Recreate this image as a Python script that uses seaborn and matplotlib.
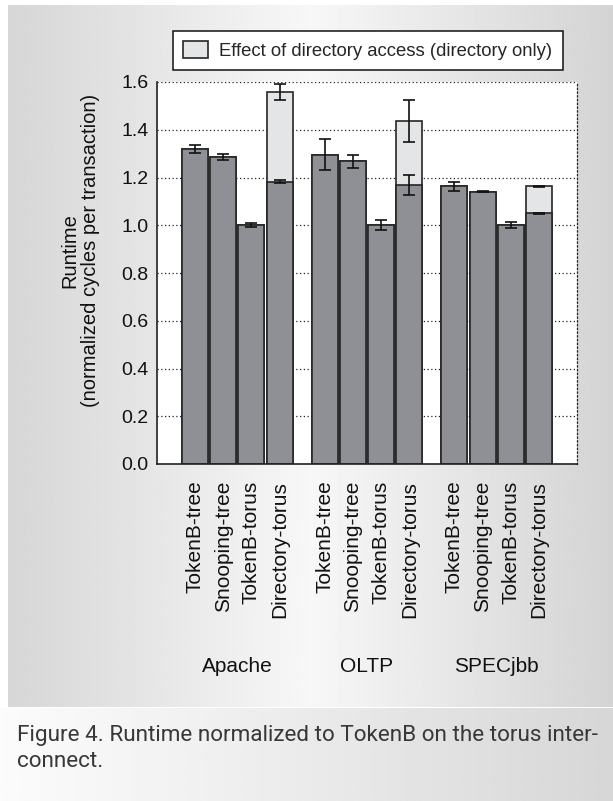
import numpy as np
import pandas as pd
import matplotlib
matplotlib.use("Agg")
import matplotlib.pyplot as plt
from matplotlib.patches import Patch
from matplotlib.transforms import blended_transform_factory
import seaborn as sns

# workloads and coherence protocol / interconnect configurations
workloads = ["Apache", "OLTP", "SPECjbb"]
configs = ["TokenB-tree", "Snooping-tree", "TokenB-torus", "Directory-torus"]

# normalized runtime (dark bars) per workload, in config order
apache_runtime = [1.321, 1.285, 1.000, 1.183]
oltp_runtime = [1.295, 1.268, 1.000, 1.167]
specjbb_runtime = [1.163, 1.140, 1.000, 1.051]

# error bar half-widths for the dark bars
apache_err = [0.017, 0.013, 0.009, 0.008]
oltp_err = [0.065, 0.028, 0.021, 0.042]
specjbb_err = [0.020, 0.002, 0.013, 0.002]

# Directory-torus runtime including effect of directory access (light part)
directory_total = [1.558, 1.435, 1.163]
directory_total_err = [0.035, 0.088, 0.002]

legend_label = "Effect of directory access (directory only)"
ylabel = "Runtime\n(normalized cycles per transaction)"
caption = "Figure 4. Runtime normalized to TokenB on the torus inter-\nconnect."

dark = "#8f9095"
light = "#e4e5e7"
edge = "#262626"
group_step = 4.6  # spacing between workload groups, in bar units

# build long table
rows = []
all_rt = [apache_runtime, oltp_runtime, specjbb_runtime]
all_err = [apache_err, oltp_err, specjbb_err]
for g, w in enumerate(workloads):
    for i, c in enumerate(configs):
        base = all_rt[g][i]
        if c == "Directory-torus":
            total = directory_total[g]
            total_err = directory_total_err[g]
        else:
            total = base
            total_err = np.nan
        rows.append({"workload": w, "config": c, "pos": g * group_step + i,
                     "runtime": base, "err": all_err[g][i],
                     "total": total, "total_err": total_err})
df = pd.DataFrame(rows)

sns.set_theme(style="white")
plt.rcParams["font.family"] = ["Liberation Sans", "DejaVu Sans"]

fig = plt.figure(figsize=(6.13, 8.01), dpi=100)
fig.patch.set_facecolor("white")

# gray gradient panels behind the chart and the caption
W, H = 613, 801
bg = fig.add_axes([8 / W, 1 - 707 / H, 1 - 8 / W, (707 - 5) / H], zorder=-2)
xx = np.linspace(0, 1, 400)
shade = np.interp(xx, [0, 0.5, 1], [0.84, 0.97, 0.83])
bg.imshow(np.tile(shade, (10, 1)), cmap="gray", vmin=0, vmax=1, aspect="auto",
          extent=[0, 1, 0, 1])
bg.set_axis_off()
bg2 = fig.add_axes([0, 0, 1, (H - 708) / H], zorder=-2)
shade2 = np.interp(xx, [0, 0.5, 1], [0.985, 0.92, 0.84])
bg2.imshow(np.tile(shade2, (10, 1)), cmap="gray", vmin=0, vmax=1, aspect="auto",
           extent=[0, 1, 0, 1])
bg2.set_axis_off()

ax = fig.add_axes([157 / W, 1 - 464 / H, 420 / W, 382 / H])
ax.set_facecolor("white")

sns.barplot(data=df, x="pos", y="total", native_scale=True, width=0.92,
            color=light, saturation=1, edgecolor=edge, linewidth=1.2,
            errorbar=None, ax=ax)
sns.barplot(data=df, x="pos", y="runtime", native_scale=True, width=0.92,
            color=dark, saturation=1, edgecolor=edge, linewidth=1.2,
            errorbar=None, ax=ax)

eb = dict(fmt="none", ecolor="#111111", elinewidth=1.2, capsize=4.6,
          capthick=1.2, zorder=4)
ax.errorbar(df["pos"], df["runtime"], yerr=df["err"], **eb)
dir_rows = df[df["config"] == "Directory-torus"]
ax.errorbar(dir_rows["pos"], dir_rows["total"], yerr=dir_rows["total_err"], **eb)

ax.set_ylim(0, 1.6)
ax.set_xlim(-1.35, df["pos"].max() + 1.35)
yt = [0.0, 0.2, 0.4, 0.6, 0.8, 1.0, 1.2, 1.4, 1.6]
ax.set_yticks(yt)
ax.set_yticklabels([f"{v:.1f}" for v in yt], fontsize=14)
ax.set_xticks(df["pos"])
ax.set_xticklabels(df["config"], rotation=90, fontsize=15)
ax.tick_params(axis="x", length=0, pad=12, colors="#111111")
ax.tick_params(axis="y", length=0, pad=6, colors="#111111")
ax.set_xlabel("")
ax.set_ylabel(ylabel, fontsize=14.5, linespacing=1.1, color="#111111")
ax.yaxis.set_label_coords(-0.135, 0.56)

ax.set_axisbelow(True)
ax.yaxis.grid(True, color="#222222", linestyle=(0, (1, 2)), linewidth=0.9)
ax.xaxis.grid(False)
for s in ["left", "bottom"]:
    ax.spines[s].set_color("#222222")
    ax.spines[s].set_linewidth(1.2)
ax.spines["top"].set_visible(False)
ax.spines["right"].set_color("#222222")
ax.spines["right"].set_linestyle((0, (1, 2)))
ax.spines["right"].set_linewidth(0.9)

# workload group labels under the config names
trans = blended_transform_factory(ax.transData, fig.transFigure)
for g, w in enumerate(workloads):
    cx = df.loc[df["workload"] == w, "pos"].mean()
    ax.text(cx, 1 - 666 / H, w, transform=trans, ha="center", va="center",
            fontsize=15, color="#111111")

handle = Patch(facecolor=light, edgecolor=edge, linewidth=1.2)
ax.legend([handle], [legend_label], loc="center",
          bbox_to_anchor=(368 / W, 1 - 50.5 / H), bbox_transform=fig.transFigure,
          fontsize=13.3, frameon=True, fancybox=False, framealpha=1,
          edgecolor="#111111", borderpad=0.55, handlelength=1.35,
          handleheight=1.05, handletextpad=0.6).get_frame().set_linewidth(1.1)

fig.text(17 / W, 1 - 725 / H, caption, ha="left", va="top", fontsize=16.2,
         family=["Roboto", "DejaVu Sans"], color="#383838", linespacing=1.3)

fig.savefig("out.png", dpi=100)
